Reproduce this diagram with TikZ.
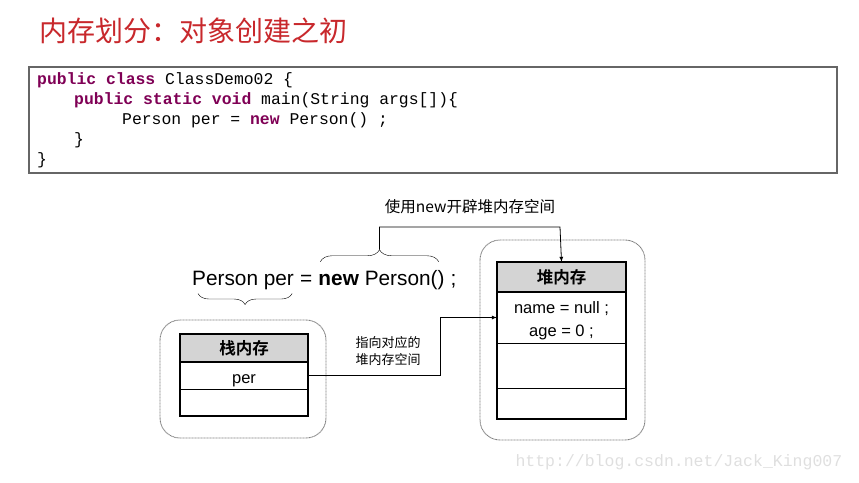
\documentclass[tikz,border=0pt]{standalone}
\usepackage{fontspec}
\setmainfont{Liberation Sans}
\setmonofont{Liberation Mono}
\newfontfamily\cjk{Noto Sans CJK SC}[BoldFont={Noto Sans CJK SC Bold}]
\usepackage{xcolor}
\usepackage{tikz}
\usetikzlibrary{positioning}
\usetikzlibrary{decorations.pathreplacing}
\usetikzlibrary{arrows}

\definecolor{titlered}{RGB}{200,40,44}
\definecolor{keyword}{RGB}{127,0,85}
\definecolor{headgray}{RGB}{212,212,212}
\newcommand{\kw}[1]{\textcolor{keyword}{\textbf{#1}}}

\begin{document}
\begin{tikzpicture}[x=1pt,y=-1pt,>=latex,
  memhead/.style={draw,line width=0.8pt,fill=headgray,minimum width=128pt,inner sep=0pt,outer sep=0pt,font=\cjk\bfseries\fontsize{16.5}{18}\selectfont},
  memcell/.style={draw,line width=0.8pt,minimum width=128pt,inner sep=0pt,outer sep=0pt,align=center,font=\fontsize{16.5}{23}\selectfont},
  area/.style={draw=gray,dash pattern=on 1pt off 0.5pt,rounded corners=20pt,line width=0.9pt},
  codeline/.style={anchor=base west,inner sep=0pt,font=\ttfamily\fontsize{16.4}{18}\selectfont},
  stmt/.style={inner sep=0pt,font=\fontsize{20.8}{24}\selectfont},
  note/.style={font=\cjk\fontsize{13}{17}\selectfont,align=center}]

\useasboundingbox (0,0) rectangle (859,482);

% title
\node[anchor=west,text=titlered,font=\cjk\fontsize{28}{30}\selectfont] (title) at (36,31) {内存划分：对象创建之初};

% source code
\node[draw=gray!80!black,line width=1.6pt,minimum width=808pt,minimum height=106pt,anchor=north west] (codebox) at (28,66) {};
\node[codeline] (code1) at (37,84)  {\kw{public} \kw{class} ClassDemo02 \{};
\node[codeline] (code2) at (74,104) {\kw{public} \kw{static} \kw{void} main(String args[])\{};
\node[codeline] (code3) at (122,124) {Person per = \kw{new} Person() ;};
\node[codeline] (code4) at (74,144) {\}};
\node[codeline] (code5) at (37,164) {\}};

% the statement
\node[stmt,anchor=base west] (decl) at (192,285) {Person per};
\node[stmt,base right=5.8pt of decl] (eq) {=};
\node[stmt,base right=5.8pt of eq] (init) {\textbf{new} Person()};
\node[stmt,base right=5.8pt of init] (semi) {;};

\draw[decorate,decoration={brace,mirror,amplitude=11pt}] ([xshift=6pt,yshift=-4pt]decl.south west) -- ([xshift=-2pt,yshift=-4pt]decl.south east);
\draw[decorate,decoration={brace,amplitude=12pt}] ([xshift=2pt,yshift=8pt]init.north west) -- ([xshift=-6pt,yshift=8pt]init.north east) coordinate[midway,yshift=12pt] (newtip);

% memory areas
\draw[area] (160,320) rectangle (326,438);
\draw[area] (480,240) rectangle (645,440);

% stack
\node[memhead,minimum height=28pt,anchor=north west] (stackhead) at (180,334) {栈内存};
\node[memcell,minimum height=27pt,below=0pt of stackhead] (stackper) {\rule{0pt}{20pt}per};
\node[memcell,minimum height=27pt,below=0pt of stackper] (stackfree) {};
\draw[line width=2.6pt] (stackhead.north west) rectangle (stackfree.south east);
\draw[line width=2.6pt] (stackhead.south west) -- (stackhead.south east);

% heap
\node[memhead,minimum height=30pt,minimum width=129pt,anchor=north west] (heaphead) at (497,262) {堆内存};
\node[memcell,minimum height=51pt,minimum width=129pt,below=0pt of heaphead] (heapattr) {\rule{0pt}{18pt}name = null ;\\age = 0 ;};
\node[memcell,minimum height=45pt,minimum width=129pt,below=0pt of heapattr] (heaprow) {};
\node[memcell,minimum height=31pt,minimum width=129pt,below=0pt of heaprow] (heapfree) {};
\draw[line width=2.6pt] (heaphead.north west) rectangle (heapfree.south east);
\draw[line width=2.6pt] (heaphead.south west) -- (heaphead.south east);

% connections
\draw[->,line width=0.8pt] (newtip) |- (560,227) -- (heaphead.north);
\node[note,font=\cjk\fontsize{15.5}{17}\selectfont] (newnote) at (470,207) {使用new开辟堆内存空间};
\draw[->,line width=0.8pt] (stackper.east) -- ++(132,0) |- (heapattr.west);
\node[note] (pointnote) at (388,351) {指向对应的\\堆内存空间};

% watermark
\node[anchor=west,text=gray!25,font=\ttfamily\fontsize{16.5}{18}\selectfont] (mark) at (512,462) {http://blog.csdn.net/Jack\_King007};
\end{tikzpicture}
\end{document}
